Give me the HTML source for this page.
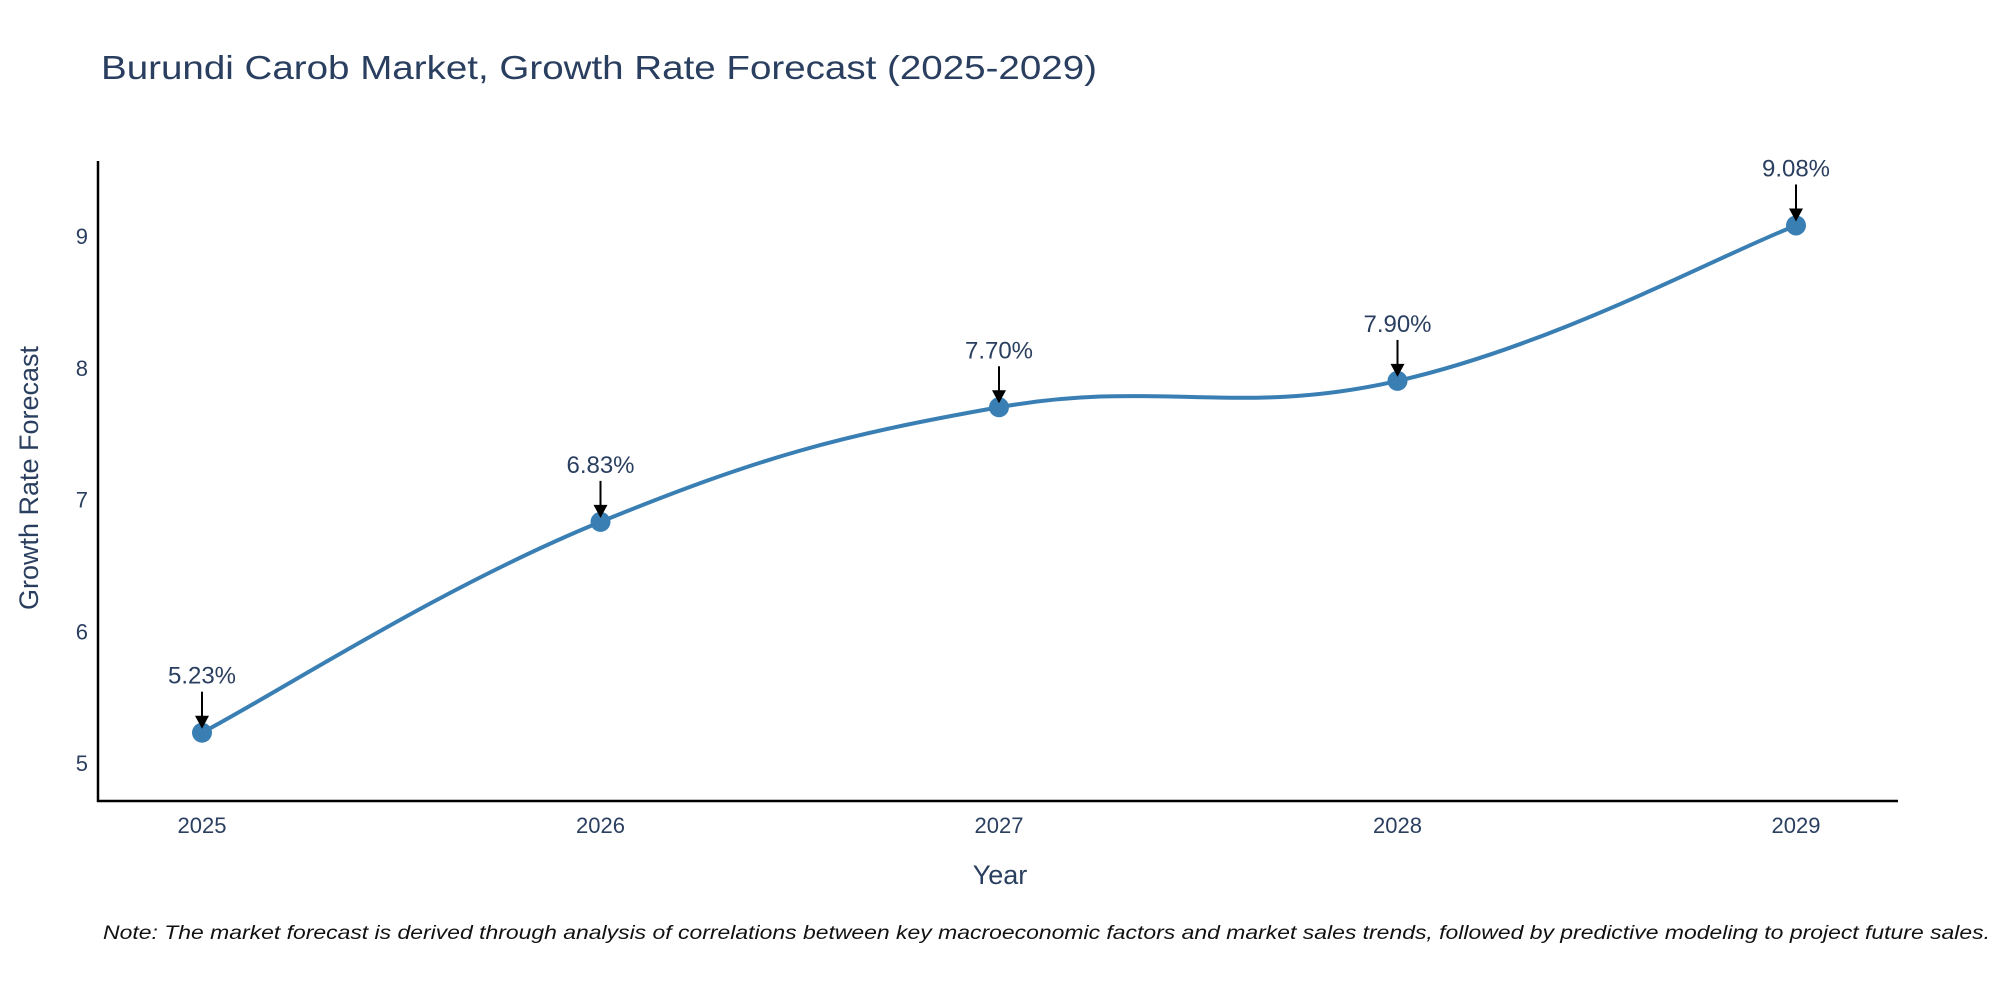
<!DOCTYPE html>
<html><head><meta charset="utf-8"><style>
body{margin:0;background:#fff}
svg{display:block;font-family:"Liberation Sans",sans-serif}
</style></head><body>
<svg id="chart" width="2000" height="1000" viewBox="0 0 2000 1000" xmlns="http://www.w3.org/2000/svg">
<text x="101" y="79" font-size="33" fill="#2a3f5f" textLength="996" lengthAdjust="spacingAndGlyphs">Burundi Carob Market, Growth Rate Forecast (2025-2029)</text>
<g id="axes"></g>
<g id="series"></g>
<text x="1000" y="884" font-size="27" fill="#2a3f5f" text-anchor="middle">Year</text>
<text transform="translate(38,478) rotate(-90)" font-size="27" fill="#2a3f5f" text-anchor="middle">Growth Rate Forecast</text>
<text x="103" y="939" font-size="19.5" font-style="italic" fill="#111" textLength="1887" lengthAdjust="spacingAndGlyphs">Note: The market forecast is derived through analysis of correlations between key macroeconomic factors and market sales trends, followed by predictive modeling to project future sales.</text>
</svg>
<script>
const years = [2025, 2026, 2027, 2028, 2029];
const growth = [5.23, 6.83, 7.70, 7.90, 9.08];
const yTicks = [5, 6, 7, 8, 9];

const NS = "http://www.w3.org/2000/svg";
const x = v => 202 + (v - 2025) * (1796 - 202) / 4;
const y = v => 763 - (v - 5) * (763 - 236) / 4;
function mk(tag, attrs, parent) {
  const e = document.createElementNS(NS, tag);
  for (const k in attrs) e.setAttribute(k, attrs[k]);
  parent.appendChild(e);
  return e;
}
const axes = document.getElementById('axes');
const series = document.getElementById('series');

const yAxis = mk('line', {x1: 98, y1: 161, x2: 98, y2: 802, stroke: '#000', 'stroke-width': 2.5}, axes);


const xAxis = mk('line', {x1: 97, y1: 801, x2: 1898, y2: 801, stroke: '#000', 'stroke-width': 2.5}, axes);



yTicks.forEach(t => {
  const tx = mk('text', {x: 88, y: y(t) + 8, 'font-size': 22, fill: '#2a3f5f', 'text-anchor': 'end'}, axes);
  tx.textContent = t;
  
  
});
years.forEach(yr => {
  const tx = mk('text', {x: x(yr), y: 833, 'font-size': 22, fill: '#2a3f5f', 'text-anchor': 'middle'}, axes);
  tx.textContent = yr;
  
  
});

// smoothed line through the points
const pts = years.map((yr, i) => [x(yr), y(growth[i])]);
let d = `M${pts[0][0]},${pts[0][1]}`;
const s = 0.2;
for (let i = 0; i < pts.length - 1; i++) {
  const p0 = pts[Math.max(i - 1, 0)], p1 = pts[i], p2 = pts[i + 1], p3 = pts[Math.min(i + 2, pts.length - 1)];
  const c1 = [p1[0] + (p2[0] - p0[0]) * s, p1[1] + (p2[1] - p0[1]) * s];
  const c2 = [p2[0] - (p3[0] - p1[0]) * s, p2[1] - (p3[1] - p1[1]) * s];
  d += ` C${c1[0]},${c1[1]} ${c2[0]},${c2[1]} ${p2[0]},${p2[1]}`;
}
const line = mk('path', {d: d, fill: 'none', stroke: '#3a7fb4', 'stroke-width': 4}, series);



pts.forEach((p, i) => {
  const c = mk('circle', {cx: p[0], cy: p[1], r: 10, fill: '#3a7fb4'}, series);
  
  
  const a = mk('line', {x1: p[0], y1: p[1] - 41, x2: p[0], y2: p[1] - 14, stroke: '#000', 'stroke-width': 2}, series);
  
  
  const h = mk('path', {d: `M${p[0] - 7},${p[1] - 17} L${p[0] + 7},${p[1] - 17} L${p[0]},${p[1] - 4} Z`, fill: '#000'}, series);
  
  
  const t = mk('text', {x: p[0], y: p[1] - 49, 'font-size': 24, fill: '#2a3f5f', 'text-anchor': 'middle'}, series);
  t.textContent = growth[i].toFixed(2) + '%';
  
  
});
</script>
</body></html>
